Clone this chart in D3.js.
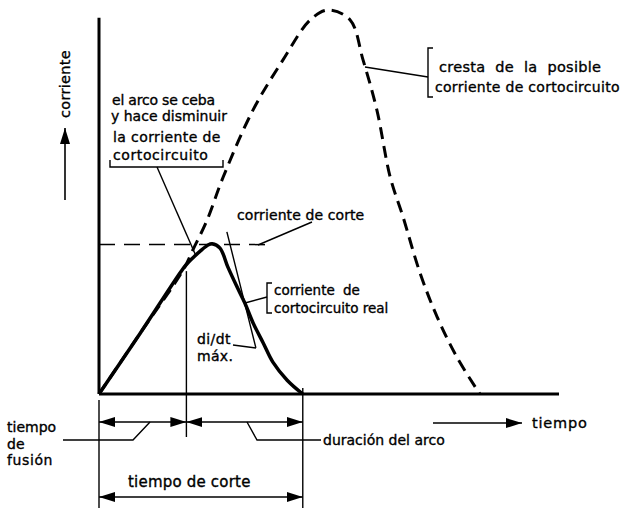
<!DOCTYPE html>
<html>
<head>
<meta charset="utf-8">
<script src="https://cdn.jsdelivr.net/npm/d3@7/dist/d3.min.js"></script>
<style>
  body { margin: 0; background: #fff; }
  text { font-family: "DejaVu Sans", sans-serif; fill: #000; stroke: #000; stroke-width: 0.35px; }
</style>
</head>
<body>
<script>
// time and current in relative units (0..100)
var prospectiveT = [0, 9, 18.3, 20.4, 23.5, 27.0, 33.5, 40.0, 45.9, 49.8, 54.6, 57.4, 60.4, 63.3, 66.1, 69.8, 73.5, 77.8, 82.8];
var prospectiveI = [0, 15.9, 32.3, 37.5, 45.3, 56.5, 74.0, 87.0, 97.4, 100, 97.4, 87.0, 74.0, 56.5, 46.1, 31.5, 20.1, 9.6, 0];

var realT = [0, 9, 17.6, 18.9, 22.0, 23.7, 24.6, 26.3, 28.0, 30.0, 31.7, 33.5, 35.7, 37.8, 40.9, 44.3];
var realI = [0, 15.9, 31.5, 33.6, 37.2, 38.8, 39.1, 38.0, 33.1, 27.9, 23.7, 18.5, 13.3, 8.3, 3.6, 0];

var meltTime = 19;      // el arco se ceba
var cutTime = 44.3;     // fin del arco
var cutCurrent = 38.9;  // corriente de corte
var tangentT = [27.8, 34.1];
var tangentI = [42.2, 12.0];

var w = 625, h = 508;

var x = d3.scaleLinear().domain([0, 100]).range([99, 559]);
var y = d3.scaleLinear().domain([0, 100]).range([394, 10]);

var svg = d3.select("body").append("svg")
  .attr("width", w)
  .attr("height", h);

var defs = svg.append("defs");
defs.append("marker")
  .attr("id", "arr")
  .attr("markerUnits", "userSpaceOnUse")
  .attr("markerWidth", 17).attr("markerHeight", 10)
  .attr("refX", 16).attr("refY", 5)
  .attr("orient", "auto-start-reverse")
  .append("path")
  .attr("d", "M0,0 L16,5 L0,10 z")
  .attr("fill", "#000");

function toPts(ts, is) {
  return ts.map(function(t, k) { return [t, is[k]]; });
}

var line = d3.line()
  .x(function(d) { return x(d[0]); })
  .y(function(d) { return y(d[1]); })
  .curve(d3.curveCatmullRom.alpha(0.5));

function seg(x1, y1, x2, y2, sw) {
  return svg.append("line")
    .attr("x1", x1).attr("y1", y1).attr("x2", x2).attr("y2", y2)
    .attr("stroke", "#000").attr("stroke-width", sw || 1.4);
}

function poly(pts, sw) {
  return svg.append("polyline")
    .attr("points", pts.map(function(p) { return p.join(","); }).join(" "))
    .attr("fill", "none").attr("stroke", "#000").attr("stroke-width", sw || 1.4);
}

function label(tx, ty, str, size, ls) {
  return svg.append("text")
    .attr("x", tx).attr("y", ty)
    .attr("font-size", size || 13)
    .attr("letter-spacing", ls || 0)
    .text(str);
}

// axes
seg(x(0), y(98), x(0), y(0), 3);
seg(x(0), y(0), x(100), y(0), 3);

// cut current level
seg(x(0), y(cutCurrent), x(37.5), y(cutCurrent), 1.5).attr("stroke-dasharray", "16,9");

// prospective current
svg.append("path")
  .datum(toPts(prospectiveT, prospectiveI))
  .attr("d", line)
  .attr("fill", "none").attr("stroke", "#000")
  .attr("stroke-width", 3)
  .attr("stroke-dasharray", "12,7");

// real current
svg.append("path")
  .datum(toPts(realT, realI))
  .attr("d", line)
  .attr("fill", "none").attr("stroke", "#000")
  .attr("stroke-width", 3.5)
  .attr("stroke-linejoin", "round");

// tangent di/dt max
seg(x(tangentT[0]), y(tangentI[0]), x(tangentT[1]), y(tangentI[1]), 1.4);

// extension lines
seg(x(0), 400, x(0), h, 1.4);
seg(x(meltTime), y(32), x(meltTime), 437, 1.4);
seg(x(cutTime), 388, x(cutTime), h, 1.4);

// dimension arrows
seg(x(0), 422, x(meltTime), 422, 1.4).attr("marker-start", "url(#arr)").attr("marker-end", "url(#arr)");
seg(x(meltTime), 422, x(cutTime), 422, 1.4).attr("marker-start", "url(#arr)").attr("marker-end", "url(#arr)");
seg(x(0), 497, x(cutTime), 497, 1.4).attr("marker-start", "url(#arr)").attr("marker-end", "url(#arr)");

// y label
seg(65, 200, 65, 128, 1.6).attr("marker-end", "url(#arr)");
svg.append("text")
  .attr("transform", "translate(70,118) rotate(-90)")
  .attr("font-size", 14.5)
  .attr("letter-spacing", 0.3)
  .text("corriente");

// x label
seg(433, 423, 522, 423, 1.6).attr("marker-end", "url(#arr)");
label(532, 428, "tiempo", 14.5, 0.8);

// el arco se ceba
label(112, 105, "el arco se ceba", 14, -0.2);
label(111, 121, "y hace disminuir", 14, 0);
label(113, 142, "la corriente de", 14, 0.4);
label(113, 160, "cortocircuito", 14, 0.6);
poly([[110, 160], [110, 167], [223, 167], [223, 160]], 1.4);
seg(157, 167, 196, 256, 1.4);

// corriente de corte
label(237, 220, "corriente de corte", 14, 0.1);
seg(258, 245, 312, 222, 1.4);

// cresta
poly([[433, 48], [428, 48], [428, 97], [433, 97]], 1.4);
seg(365, 67, 428, 77, 1.4);
svg.append("text").attr("x", 439).attr("y", 72).attr("font-size", 14.5)
  .attr("letter-spacing", 0.3)
  .attr("word-spacing", 5).text("cresta de la posible");
label(435, 92, "corriente de cortocircuito", 14, 0.3);

// corriente real
poly([[272, 283], [267, 283], [267, 313], [272, 313]], 1.4);
seg(245, 303, 267, 297, 1.4);
svg.append("text").attr("x", 274).attr("y", 295).attr("font-size", 13.5)
  .attr("word-spacing", 4).text("corriente de");
label(274, 313, "cortocircuito real", 13.5, 0);

// di/dt
label(197, 344, "di/dt", 14, 0.4);
label(197, 361, "máx.", 14, 0.3);
poly([[233, 345], [256, 348]], 1.4);

// tiempo de fusion
label(7, 432, "tiempo", 14, 0);
label(7, 449, "de", 14, 0);
label(7, 465, "fusión", 14, 0.6);
poly([[63, 440], [133, 440], [150, 422]], 1.4);

// duracion del arco
poly([[247, 422], [257, 440], [321, 440]], 1.4);
label(323, 445, "duración del arco", 14, 0);

// tiempo de corte
label(128, 487, "tiempo de corte", 15, 0.2);
</script>
</body>
</html>
